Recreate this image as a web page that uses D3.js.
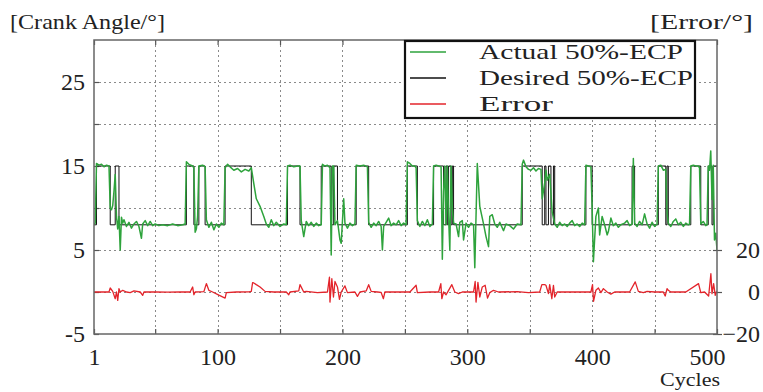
<!DOCTYPE html>
<meta charset="utf-8">
<style>
    body {
        margin: 0;
        background-color: #ffffff;
    }

    text {
        font-family: "Liberation Serif", serif;
        fill: #222;
    }

    .grid line {
        stroke: #8a8a8a;
        stroke-width: 1;
        stroke-dasharray: 2, 3;
        shape-rendering: crispEdges;
    }

    .axis path {
        display: none;
    }

    .axis line {
        stroke: #555;
        stroke-width: 1.2;
    }
</style>

<body>
    <svg width="763" height="392"></svg>
    <script src="https://d3js.org/d3.v7.min.js"></script>
    <script>
        // desired 50%-ECP: cycle where the set point changes, and the level it takes
        var desiredCycles = [1, 3, 14, 18, 21, 75, 81, 85, 90, 106, 127, 156, 166, 183, 191, 193, 196, 211, 221,
            252, 260, 273, 281, 283, 284, 285, 287, 288, 289, 344, 360, 362, 363, 365, 367, 369, 370,
            395, 400, 432, 434, 453, 459, 460, 461, 479, 487, 493, 496, 497, 500];
        var desiredLevels = [8, 15, 8, 15, 8, 15, 8, 15, 8, 15, 8, 15, 8, 15, 8, 15, 8, 15, 8,
            15, 8, 15, 8, 15, 8, 15, 8, 15, 8, 15, 8, 15, 8, 15, 8, 15, 8,
            15, 8, 15, 8, 15, 8, 15, 8, 15, 8, 15, 8, 15, 15];

        // actual 50%-ECP [cycle, crank angle]
        var actual = [[1, 8], [2, 8.2], [3, 15.3], [5, 15.1], [7, 15.2], [9, 14.9], [11, 15.1], [13, 15], [14, 10],
            [15, 9.8], [16, 10.3], [17, 12], [18, 14], [19, 9], [20, 7.5], [21, 9], [22, 5], [23, 8.9], [24, 8.2],
            [25, 8.6], [27, 7.8], [29, 8.3], [31, 7.6], [33, 8.1], [35, 8.4], [37, 7.8], [39, 6.4], [40, 8.1],
            [42, 8.5], [44, 7.9], [46, 8.4], [48, 7.9], [50, 8.1], [53, 7.9], [56, 8.0], [60, 7.9], [64, 8.1],
            [68, 7.9], [72, 8.0], [74, 8.1], [75, 15.5], [77, 15.2], [80, 15], [81, 14.8], [82, 7.1], [83, 7.5],
            [84, 9], [85, 15], [88, 15.1], [90, 14.9], [91, 8.6], [93, 7.7], [95, 8.3], [97, 7.4], [99, 8.1],
            [101, 7.7], [103, 8.2], [105, 8.0], [106, 14.8], [108, 15.2], [110, 14.9], [113, 14.5], [116, 14.7],
            [119, 14.3], [122, 14.6], [125, 14.4], [127, 14.8], [129, 12.9], [131, 11.1], [134, 10.2], [137, 9],
            [139, 8.1], [141, 7.7], [143, 8.6], [145, 7.9], [147, 8.3], [150, 7.8], [153, 8.1], [155, 8.0],
            [156, 15], [158, 15.1], [161, 14.9], [164, 15], [166, 15], [167, 8.5], [169, 6.6], [171, 8.4],
            [173, 7.9], [175, 8.3], [177, 7.8], [179, 8.2], [181, 7.9], [183, 8], [184, 15.2], [186, 15],
            [188, 15.1], [190, 14.8], [191, 4.4], [192, 15], [193, 15], [194, 8], [196, 8.5], [198, 6.2],
            [199, 5.8], [201, 11.1], [202, 8.2], [204, 7.6], [206, 8.2], [208, 7.9], [210, 8.1], [211, 15.1],
            [214, 15], [217, 15.1], [220, 14.9], [221, 8.3], [223, 7.7], [225, 8.2], [227, 7.9], [229, 8.4],
            [231, 7.8], [232, 5], [233, 7.8], [235, 8.3], [237, 8.8], [239, 7.9], [241, 8.2], [243, 8],
            [245, 8.5], [247, 7.9], [249, 8.2], [251, 8.0], [252, 15.5], [254, 15.3], [256, 15], [258, 15],
            [259, 14.8], [260, 8.5], [262, 7.8], [264, 8.4], [266, 7.9], [268, 8.6], [270, 7.8], [272, 8.1],
            [273, 15], [275, 15.1], [277, 15], [279, 14.9], [280, 3.9], [281, 12], [282, 15], [283, 8],
            [284, 15], [285, 9], [286, 5], [287, 15], [288, 10], [289, 8.2], [291, 8.1], [293, 6.6], [294, 8.3],
            [296, 8.5], [297, 6.2], [299, 8.2], [301, 7.7], [303, 8.2], [305, 8.0], [306, 2.9], [308, 15.3],
            [310, 10.2], [313, 8.1], [315, 6.6], [317, 5.4], [318, 9], [320, 9.2], [322, 8.1], [324, 7.7],
            [326, 8.3], [329, 7.3], [331, 8.1], [334, 7.9], [337, 7.5], [340, 8.1], [343, 8.0], [344, 15.2],
            [345, 15.7], [347, 14.9], [349, 14.6], [351, 14.5], [353, 14.8], [355, 14.4], [357, 14.7],
            [359, 14.6], [360, 11.1], [362, 13], [363, 14.5], [364, 13.3], [366, 14], [368, 9.5], [370, 8.1],
            [372, 7.7], [374, 8.3], [376, 7.9], [378, 8.1], [380, 7.8], [382, 8.2], [384, 8.5], [386, 7.9],
            [388, 8.1], [390, 7.8], [392, 8.2], [394, 8.0], [395, 15.1], [397, 15], [399, 14.9], [400, 10],
            [401, 3.6], [403, 9], [405, 10], [406, 6.8], [408, 9], [410, 8.0], [412, 6.8], [413, 7.2],
            [415, 8.8], [417, 7.9], [419, 8.2], [421, 7.7], [423, 8.0], [426, 8.2], [428, 8.5], [430, 7.9],
            [432, 8.1], [433, 15.9], [434, 8.2], [436, 7.8], [438, 8.4], [440, 8.0], [442, 9.3], [444, 8.1],
            [446, 7.6], [448, 8.3], [450, 7.8], [452, 8.1], [453, 15], [455, 15.1], [457, 14.5], [459, 14.6],
            [460, 9.4], [461, 8.2], [463, 7.8], [465, 8.4], [467, 8.7], [469, 8], [471, 8.3], [473, 7.8],
            [475, 8.2], [477, 8], [478, 8.1], [479, 15], [481, 15.1], [483, 15], [485, 15], [486, 14.8],
            [487, 8.1], [489, 8.4], [491, 7.9], [492, 8.0], [493, 15], [494, 14.5], [495, 16.8], [496, 11],
            [497, 15.1], [498, 6.2], [499, 7.0], [500, 5]];

        // error [cycle, error], right axis
        var error = [[1, 0], [13, 0], [14, 1.9], [16, 0.3], [18, -3.2], [19, 0], [20, -4], [21, 1.6], [22, 0],
            [24, 0.8], [27, 0], [30, -0.3], [33, 0.5], [38, 0], [40, -1.6], [41, 0], [50, 0.1], [60, -0.1],
            [70, 0.1], [78, 0], [80, 2.4], [81, -1.3], [82, 0], [89, 0.2], [91, 4], [93, 0.8], [96, 0],
            [101, -1.5], [106, -2.9], [107, -0.3], [115, 0], [125, 0.1], [127, 0.3], [128, 4.4], [129, 4.3],
            [131, 3.5], [134, 2.4], [138, 0.3], [145, 0], [155, 0], [157, -1.3], [158, 0], [165, 0.5],
            [166, 3.5], [169, 0], [171, 0.3], [180, -0.3], [188, 0], [189.6, 7.1], [190, -4.8], [191.5, 6.3],
            [192.8, -2.4], [194, 5], [196, 2.4], [197.6, -3.5], [199, 0], [202, 2.9], [204, -0.3], [210, 0],
            [212, -2.1], [214, 0], [219, 0.5], [221, 3.5], [223, 0.3], [228, 0], [231, -0.2], [232.8, -3.2],
            [234, 0], [245, 0], [254, 0], [259, 3.2], [260, -0.3], [270, 0], [277, 0], [278.8, 4],
            [279.6, -3.2], [281, 0], [283, -1.3], [285, 0.8], [287.6, 3.5], [290, 0], [293, -0.8], [296, 0],
            [305, 0], [306.3, 5], [307, -4.8], [308.5, 4.6], [310, -2.4], [312, 2.4], [314.3, 3.2],
            [316.2, -2.9], [318, -0.3], [321, 0.8], [325, 0], [340, 0.2], [349, -0.3], [358, 0], [359.7, 3.5],
            [362, 3.5], [363, 3.2], [365, -0.8], [366, 3.5], [367.7, -3.2], [369, 3.2], [370, -2.4], [372, 0],
            [385, 0], [399, 0], [400.3, 3.5], [401.1, -4.4], [403, 0.8], [405, 1.9], [407, -0.3], [409, 1.6],
            [412, 0], [415, -1], [418, 0], [430, 0], [434.5, 4.8], [437, 0.3], [441, -0.3], [444, 0.3],
            [450, 0], [457, 0], [458.5, -1.9], [460, 1.6], [461, 0.8], [463, 0], [475, 0], [485.2, 4],
            [487, -0.3], [490, 0], [493.3, -1.9], [495.1, 8.7], [496, -0.8], [497.3, 4], [498.6, -1.6],
            [499.5, 0], [500, 0]];

        var xTicks = [1, 50, 100, 150, 200, 250, 300, 350, 400, 450, 500];
        var xLabels = [1, 100, 200, 300, 400, 500];
        var yLeftTicks = [-5, 0, 5, 10, 15, 20, 25];
        var yLeftLabels = [-5, 5, 15, 25];
        var yRightTicks = [-20, 0, 20];
        var legendNames = ["Actual 50%-ECP", "Desired 50%-ECP", "Error"];
        var legendColors = ["#2ea33c", "#111111", "#e3242b"];

        var svg = d3.select("svg"),
            margin = {
                top: 40,
                right: 46,
                bottom: 58,
                left: 94
            },
            width = +svg.attr("width") - margin.left - margin.right,
            height = +svg.attr("height") - margin.top - margin.bottom;

        var x = d3.scaleLinear().domain([1, 500]).range([0, width]);
        var yL = d3.scaleLinear().domain([-5, 30]).range([height, 0]);
        var yR = d3.scaleLinear().domain([-20, 120]).range([height, 0]);

        var g = svg.append("g")
            .attr("transform", "translate(" + margin.left + "," + margin.top + ")");

        svg.append("defs").append("clipPath").attr("id", "plot")
            .append("rect").attr("width", width).attr("height", height);

        // dotted grid
        g.append("g").attr("class", "grid")
            .selectAll("line").data(xTicks.slice(1, -1)).enter().append("line")
            .attr("x1", function(d) { return Math.round(x(d)) + 0.5; })
            .attr("x2", function(d) { return Math.round(x(d)) + 0.5; })
            .attr("y1", 0).attr("y2", height);
        g.append("g").attr("class", "grid")
            .selectAll("line").data(yLeftTicks.slice(1)).enter().append("line")
            .attr("y1", function(d) { return Math.round(yL(d)) + 0.5; })
            .attr("y2", function(d) { return Math.round(yL(d)) + 0.5; })
            .attr("x1", 0).attr("x2", width);

        // axes
        g.append("g").attr("class", "axis")
            .attr("transform", "translate(0," + height + ")")
            .call(d3.axisBottom(x).tickValues(xTicks).tickSize(-5).tickPadding(14)
                .tickFormat(function(d) { return xLabels.indexOf(d) >= 0 ? d : ""; }))
            .selectAll("text").style("font-size", "24px").style("font-family", "Liberation Serif")
            .attr("dx", function(d) { return d == 500 ? "-10" : 0; });
        g.append("g").attr("class", "axis")
            .call(d3.axisTop(x).tickValues(xTicks).tickSize(-5).tickFormat(""));
        g.append("g").attr("class", "axis")
            .call(d3.axisLeft(yL).tickValues(yLeftTicks).tickSize(-5).tickPadding(9)
                .tickFormat(function(d) { return yLeftLabels.indexOf(d) >= 0 ? d : ""; }))
            .selectAll("text").style("font-size", "24px").style("font-family", "Liberation Serif");
        var right = g.append("g").attr("class", "axis")
            .attr("transform", "translate(" + width + ",0)")
            .call(d3.axisRight(yR).tickValues(yRightTicks).tickSize(5).tickPadding(8));
        right.selectAll("text").style("font-size", "24px").style("font-family", "Liberation Serif")
            .attr("text-anchor", "end").attr("x", 43);
        right.selectAll(".tick line").attr("x1", -4);

        // series
        var plot = g.append("g").attr("clip-path", "url(#plot)");
        var desired = desiredCycles.map(function(c, i) { return [c, desiredLevels[i]]; });

        plot.append("path").datum(desired)
            .attr("fill", "none").attr("stroke", legendColors[1]).attr("stroke-width", 1)
            .attr("d", d3.line().curve(d3.curveStepAfter)
                .x(function(d) { return x(d[0]); })
                .y(function(d) { return yL(d[1]); }));
        plot.append("path").datum(actual)
            .attr("fill", "none").attr("stroke", legendColors[0]).attr("stroke-width", 1.5)
            .attr("stroke-linejoin", "round")
            .attr("d", d3.line()
                .x(function(d) { return x(d[0]); })
                .y(function(d) { return yL(d[1]); }));
        plot.append("path").datum(error)
            .attr("fill", "none").attr("stroke", legendColors[2]).attr("stroke-width", 1.3)
            .attr("stroke-linejoin", "round")
            .attr("d", d3.line()
                .x(function(d) { return x(d[0]); })
                .y(function(d) { return yR(d[1]); }));

        // frame
        g.append("rect").attr("width", width).attr("height", height)
            .attr("fill", "none").attr("stroke", "#666").attr("stroke-width", 1.5);

        // legend
        var legend = svg.append("g").attr("transform", "translate(405,41)");
        legend.append("rect").attr("width", 290).attr("height", 77)
            .attr("fill", "#fff").attr("stroke", "#111").attr("stroke-width", 2.2);
        var widths = [204, 214, 74];
        legendNames.forEach(function(name, i) {
            var yy = 11 + i * 26;
            legend.append("line").attr("x1", 5).attr("x2", 41).attr("y1", yy).attr("y2", yy)
                .attr("stroke", legendColors[i]).attr("stroke-width", 1.5);
            legend.append("text").attr("x", 74).attr("y", yy + 7)
                .attr("textLength", widths[i]).attr("lengthAdjust", "spacingAndGlyphs")
                .style("font-size", "21px").text(name);
        });

        // axis titles
        svg.append("text").attr("x", 10).attr("y", 29)
            .attr("textLength", 155).attr("lengthAdjust", "spacingAndGlyphs")
            .style("font-size", "21px").text("[Crank Angle/°]");
        svg.append("text").attr("x", 650).attr("y", 29)
            .attr("textLength", 103).attr("lengthAdjust", "spacingAndGlyphs")
            .style("font-size", "21px").text("[Error/°]");
        svg.append("text").attr("x", 660).attr("y", 386)
            .attr("textLength", 60).attr("lengthAdjust", "spacingAndGlyphs")
            .style("font-size", "18px").text("Cycles");
    </script>
</body>
